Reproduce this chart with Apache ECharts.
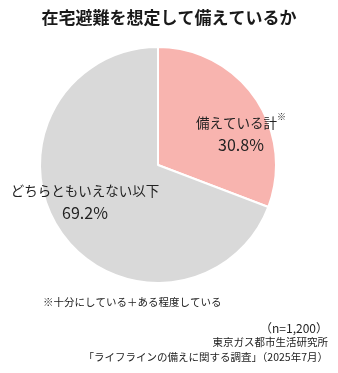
<!DOCTYPE html>
<html>
<head>
<meta charset="utf-8">
<script src="https://cdn.jsdelivr.net/npm/echarts@6/dist/echarts.min.js"></script>
<style>
  html, body { margin: 0; padding: 0; background: #fff; }
  #chart { width: 338px; height: 373px; }
</style>
</head>
<body>
<div id="chart"></div>
<script>
// カテゴリと値
var categories = ["備えている計", "どちらともいえない以下"];
var values = [30.8, 69.2];
var colors = ["#F8B4AF", "#D9D9D9"];
var titleText = "在宅避難を想定して備えているか";
var noteText = "※十分にしている＋ある程度している";
var sourceLines = ["（n=1,200）", "東京ガス都市生活研究所", "「ライフラインの備えに関する調査」（2025年7月）"];

var font = "'Noto Sans CJK JP', sans-serif";
var chart = echarts.init(document.getElementById("chart"));

var option = {
  animation: false,
  title: {
    text: titleText,
    left: 164,
    textAlign: "center",
    top: 4,
    textStyle: { fontFamily: font, fontSize: 17, fontWeight: "bold", color: "#1a1a1a" }
  },
  graphic: [
    {
      type: "text", left: 43, top: 297,
      style: { text: noteText, font: "10.5px " + font, fill: "#222" }
    }
  ].concat(sourceLines.map(function (s, i) {
    return {
      type: "text", right: 10, top: 322 + i * 15,
      style: { text: s, font: (i === 0 ? "12px " : "10.5px ") + font, fill: "#222" }
    };
  })),
  series: [
    {
      type: "pie",
      center: [158, 165],
      radius: [0, 118],
      startAngle: 90,
      clockwise: true,
      silent: true,
      itemStyle: { borderColor: "#fff", borderWidth: 2 },
      labelLine: { show: false },
      data: categories.map(function (c, i) {
        return { name: c, value: values[i], itemStyle: { color: colors[i] } };
      }),
      label: {
        show: true,
        position: "inside",
        fontFamily: font,
        color: "#222",
        align: "center",
        formatter: function (p) {
          return p.dataIndex === 0
            ? "{n|" + p.name + "}{s|※}\n{v|" + p.value.toFixed(1) + "%}"
            : "{n|" + p.name + "}\n{v|" + p.value.toFixed(1) + "%}";
        },
        rich: {
          n: { fontSize: 13.5, fontFamily: font, color: "#222", lineHeight: 22, align: "center" },
          v: { fontSize: 16, fontFamily: font, color: "#222", lineHeight: 22, align: "center" },
          s: { fontSize: 9, verticalAlign: "top", padding: [0, 0, 8, 0], fontFamily: font, color: "#222" }
        }
      }
    }
  ]
};
chart.setOption(option);

// ラベル位置を参照画像に合わせて調整
chart.setOption({
  series: [{
    labelLayout: function (params) {
      if (params.dataIndex === 0) return { x: 241, y: 134, align: "center", verticalAlign: "middle" };
      return { x: 85, y: 202, align: "center", verticalAlign: "middle" };
    }
  }]
});
</script>
</body>
</html>
